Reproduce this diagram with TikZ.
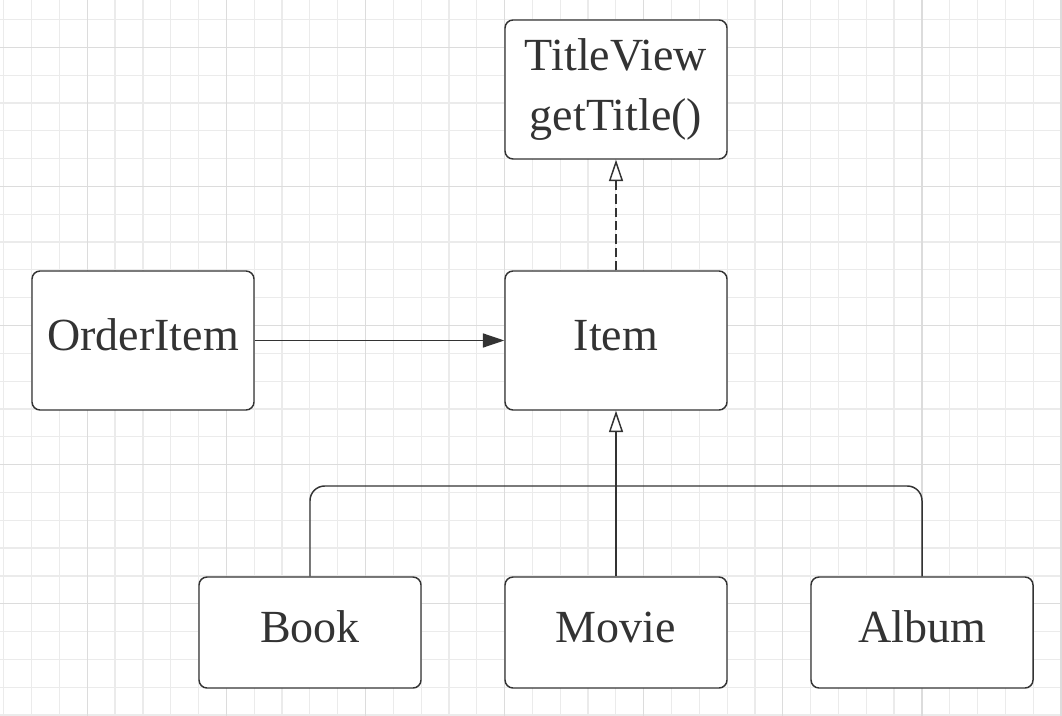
\documentclass[tikz,border=0pt]{standalone}
\usepackage{fontspec}
\setmainfont{Liberation Serif}
\usetikzlibrary{arrows.meta}
\definecolor{minorgrid}{HTML}{EBEBEB}
\definecolor{majorgrid}{HTML}{DCDCDC}
\definecolor{ink}{HTML}{333333}
\tikzset{
  umlbox/.style={draw=ink, line width=1.1pt, rounded corners=6pt, fill=white,
    minimum width=166.5pt, text=ink, align=center,
    font=\fontsize{34.5}{45}\selectfont, inner sep=0pt},
  oneline/.style={text height=23pt, text depth=8.5pt},
  tallbox/.style={umlbox, minimum height=104.25pt},
  shortbox/.style={umlbox, oneline, minimum height=83.25pt},
  conn/.style={draw=ink, line width=1.1pt},
  openhead/.style={-{Triangle[open, length=16pt, width=10.5pt, fill=white]}},
  fullhead/.style={-{Triangle[length=16pt, width=10.5pt]}},
}
\begin{document}
\begin{tikzpicture}[x=0.75pt,y=-0.75pt]
\useasboundingbox (0,0) rectangle (1062,716);
\fill[white] (0,0) rectangle (1062,716);
% grid
\foreach \i in {0,...,38} {
  \pgfmathsetmacro{\gx}{3.8+27.82*\i}
  \draw[minorgrid, line width=0.9pt] (\gx,0) -- (\gx,716);
}
\foreach \i in {0,...,26} {
  \pgfmathsetmacro{\gy}{19.5+27.82*\i}
  \draw[minorgrid, line width=0.9pt] (0,\gy) -- (1062,\gy);
}
\foreach \i in {0,...,7} {
  \pgfmathsetmacro{\gx}{87.3+139.1*\i}
  \draw[majorgrid, line width=0.9pt] (\gx,0) -- (\gx,716);
}
\foreach \i in {0,...,5} {
  \pgfmathsetmacro{\gy}{47.3+139.1*\i}
  \draw[majorgrid, line width=0.9pt] (0,\gy) -- (1062,\gy);
}
% nodes
\node[tallbox] (titleview) at (616,89.5) {TitleView\\getTitle()};
\node[tallbox, oneline] (orderitem) at (143,340.5) {OrderItem};
\node[tallbox, oneline] (item) at (616,340.5) {Item};
\node[shortbox] (book) at (310,632.5) {Book};
\node[shortbox] (movie) at (616,632.5) {Movie};
\node[shortbox] (album) at (922,632.5) {Album};
\coordinate (bus) at (616,486);
% connectors
\draw[conn, openhead, dash pattern=on 7pt off 3pt] (item.north) -- (titleview.south);
\draw[conn, fullhead] (orderitem.east) -- (item.west);
\draw[conn, openhead] (movie.north) -- (item.south);
\draw[conn, rounded corners=11pt] (book.north) |- (bus) -| (album.north);
\end{tikzpicture}
\end{document}
